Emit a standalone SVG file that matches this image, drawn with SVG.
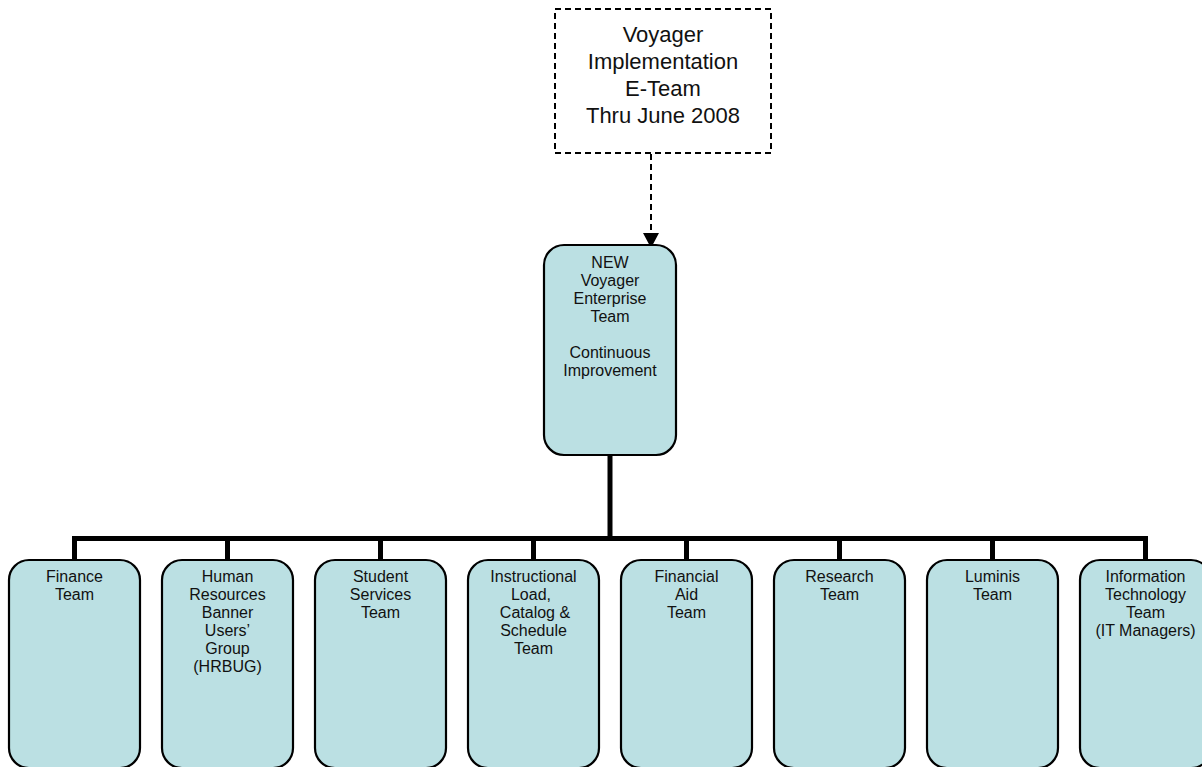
<svg xmlns="http://www.w3.org/2000/svg" width="1202" height="767" viewBox="0 0 1202 767">
<style>
.box{fill:#BBE0E3;stroke:#000;stroke-width:2.2}
.t{font-family:"Liberation Sans",Arial,sans-serif;font-size:16px;fill:#111;text-anchor:middle}
.tt{font-family:"Liberation Sans",Arial,sans-serif;font-size:22px;fill:#111;text-anchor:middle}
.bus{stroke:#000;fill:none;stroke-width:5}
</style>
<defs>
<marker id="arr" markerWidth="16" markerHeight="16" refX="8" refY="15" orient="auto" markerUnits="userSpaceOnUse" viewBox="0 0 16 16">
<path d="M0,0 L16,0 L8,15 Z" fill="#000"/>
</marker>
</defs>
<rect width="1202" height="767" fill="#fff"/>
<g id="connectors">
<line x1="651" y1="154" x2="651" y2="233" stroke="#000" stroke-width="2" stroke-dasharray="6,4"/>
<path d="M643,233 L659,233 L651,248 Z" fill="#000"/>
<line class="bus" x1="610" y1="455" x2="610" y2="539" stroke-width="6"/>
<path class="bus" d="M74.5,560 V538.5 H1145.5 V560"/>
<line class="bus" x1="227.5" y1="538.5" x2="227.5" y2="560"/>
<line class="bus" x1="380.5" y1="538.5" x2="380.5" y2="560"/>
<line class="bus" x1="533.5" y1="538.5" x2="533.5" y2="560"/>
<line class="bus" x1="686.5" y1="538.5" x2="686.5" y2="560"/>
<line class="bus" x1="839.5" y1="538.5" x2="839.5" y2="560"/>
<line class="bus" x1="992.5" y1="538.5" x2="992.5" y2="560"/>
</g>
<g id="eteam">
<rect x="555" y="9" width="216" height="144" fill="#fff" stroke="#000" stroke-width="2" stroke-dasharray="6,4"/>
<text class="tt" x="663" y="42">Voyager</text>
<text class="tt" x="663" y="69">Implementation</text>
<text class="tt" x="663" y="96">E-Team</text>
<text class="tt" x="663" y="123">Thru June 2008</text>
</g>
<g id="enterprise">
<rect class="box" x="544" y="245" width="132" height="210" rx="20"/>
<text class="t" x="610" y="268">NEW</text>
<text class="t" x="610" y="286">Voyager</text>
<text class="t" x="610" y="304">Enterprise</text>
<text class="t" x="610" y="322">Team</text>
<text class="t" x="610" y="358">Continuous</text>
<text class="t" x="610" y="376">Improvement</text>
</g>
<g id="finance">
<rect class="box" x="9" y="560" width="131" height="208" rx="20"/>
<text class="t" x="74.5" y="582">Finance</text>
<text class="t" x="74.5" y="600">Team</text>
</g>
<g id="hr">
<rect class="box" x="162" y="560" width="131" height="208" rx="20"/>
<text class="t" x="227.5" y="582">Human</text>
<text class="t" x="227.5" y="600">Resources</text>
<text class="t" x="227.5" y="618">Banner</text>
<text class="t" x="227.5" y="636">Users’</text>
<text class="t" x="227.5" y="654">Group</text>
<text class="t" x="227.5" y="672">(HRBUG)</text>
</g>
<g id="student">
<rect class="box" x="315" y="560" width="131" height="208" rx="20"/>
<text class="t" x="380.5" y="582">Student</text>
<text class="t" x="380.5" y="600">Services</text>
<text class="t" x="380.5" y="618">Team</text>
</g>
<g id="instructional">
<rect class="box" x="468" y="560" width="131" height="208" rx="20"/>
<text class="t" x="533.5" y="582">Instructional</text>
<text class="t" x="531" y="600">Load,</text>
<text class="t" x="535" y="618">Catalog &amp;</text>
<text class="t" x="533.5" y="636">Schedule</text>
<text class="t" x="533.5" y="654">Team</text>
</g>
<g id="finaid">
<rect class="box" x="621" y="560" width="131" height="208" rx="20"/>
<text class="t" x="686.5" y="582">Financial</text>
<text class="t" x="686.5" y="600">Aid</text>
<text class="t" x="686.5" y="618">Team</text>
</g>
<g id="research">
<rect class="box" x="774" y="560" width="131" height="208" rx="20"/>
<text class="t" x="839.5" y="582">Research</text>
<text class="t" x="839.5" y="600">Team</text>
</g>
<g id="luminis">
<rect class="box" x="927" y="560" width="131" height="208" rx="20"/>
<text class="t" x="992.5" y="582">Luminis</text>
<text class="t" x="992.5" y="600">Team</text>
</g>
<g id="it">
<rect class="box" x="1080" y="560" width="131" height="208" rx="20"/>
<text class="t" x="1145.5" y="582">Information</text>
<text class="t" x="1145.5" y="600">Technology</text>
<text class="t" x="1145.5" y="618">Team</text>
<text class="t" x="1145.5" y="636">(IT Managers)</text>
</g>
</svg>
